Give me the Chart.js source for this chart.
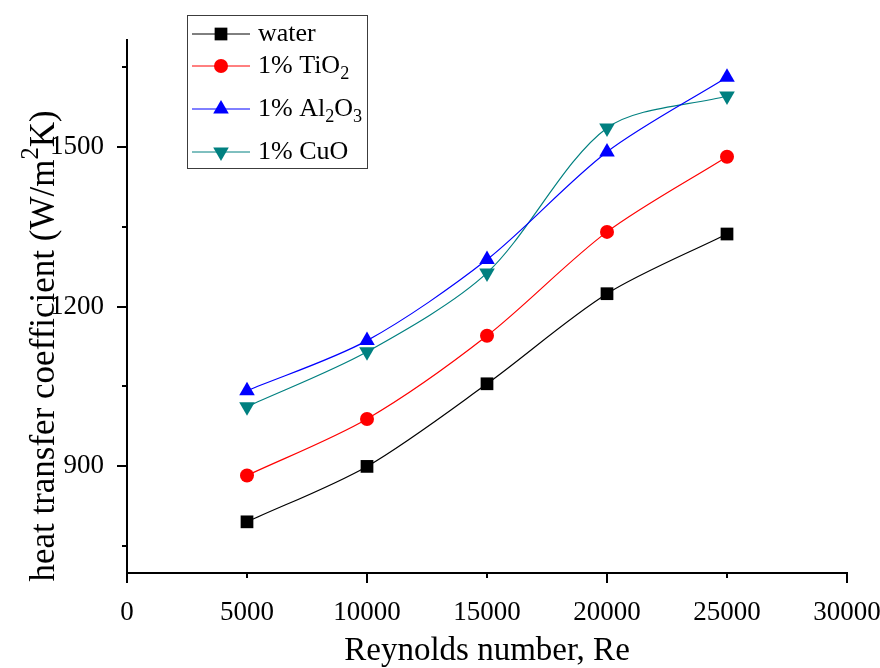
<!DOCTYPE html>
<html>
<head>
<meta charset="utf-8">
<script src="https://cdn.jsdelivr.net/npm/chart.js@4"></script>
<style>
  html, body { margin: 0; background: #fff; }
  #wrap { width: 880px; height: 668px; }
</style>
</head>
<body>
<div id="wrap"><canvas id="myChart" width="880" height="668"></canvas></div>
<script>
// data
const reynolds = [5000, 10000, 15000, 20000, 25000];
const waterH = [796, 900, 1055, 1224, 1336];
const tio2H = [883, 989, 1145, 1340, 1481];
const al2o3H = [1042, 1136, 1288, 1490, 1630];
const cuoH = [1012, 1115, 1263, 1535, 1595];
const seriesNames = ['water', '1% TiO\u2082', '1% Al\u2082O\u2083', '1% CuO'];

const xTickLabels = [0, 5000, 10000, 15000, 20000, 25000, 30000];
const xMajorTicks = [0, 10000, 20000, 30000];
const xMinorTicks = [5000, 15000, 25000];
const yTickLabels = [900, 1200, 1500];
const yMinorTicks = [750, 1050, 1350, 1650];

const xTitle = 'Reynolds number, Re';
const yTitle = 'heat transfer coefficient (W/m\u00b2K)';

const FONT = '"Liberation Serif", "Times New Roman", serif';
const SUB = '\u2080\u2081\u2082\u2083\u2084\u2085\u2086\u2087\u2088\u2089';
const SUP = '\u2070\u00b9\u00b2\u00b3\u2074\u2075\u2076\u2077\u2078\u2079';

// split text into normal / subscript / superscript runs
const richRuns = (text) => {
    const runs = [];
    for (const ch of text) {
        let mode = 0, c = ch, k = SUB.indexOf(ch);
        if (k >= 0) { mode = 1; c = String(k); }
        else if ((k = SUP.indexOf(ch)) >= 0) { mode = -1; c = String(k); }
        const last = runs[runs.length - 1];
        if (last && last.mode === mode) last.text += c;
        else runs.push({ text: c, mode: mode });
    }
    return runs;
};

const drawRich = (ctx, text, x, y, size, align) => {
    const runs = richRuns(text);
    const small = size * 0.7;
    let w = 0;
    runs.forEach(r => {
        ctx.font = (r.mode ? small : size) + 'px ' + FONT;
        r.w = ctx.measureText(r.text).width;
        w += r.w;
    });
    let cx = align === 'center' ? x - w / 2 : x;
    ctx.textAlign = 'left';
    ctx.textBaseline = 'middle';
    runs.forEach(r => {
        ctx.font = (r.mode ? small : size) + 'px ' + FONT;
        const dy = r.mode === 1 ? size * 0.3 : (r.mode === -1 ? -size * 0.38 : 0);
        ctx.fillText(r.text, cx, y + dy);
        cx += r.w;
    });
};

const drawMarker = (ctx, style, rot, x, y, r, color) => {
    ctx.fillStyle = color;
    ctx.beginPath();
    if (style === 'rect') {
        const s = r * Math.SQRT1_2;
        ctx.rect(x - s, y - s, 2 * s, 2 * s);
    } else if (style === 'triangle') {
        let a = rot * Math.PI / 180;
        for (let i = 0; i < 3; i++) {
            const px = x + Math.sin(a) * r, py = y - Math.cos(a) * r;
            if (i === 0) ctx.moveTo(px, py); else ctx.lineTo(px, py);
            a += 2 * Math.PI / 3;
        }
        ctx.closePath();
    } else {
        ctx.arc(x, y, r, 0, Math.PI * 2);
    }
    ctx.fill();
};

// tick marks: long majors, short minors, pointing outwards
const axisTicks = {
    id: 'axisTicks',
    afterDraw(chart) {
        const { ctx, scales: { x, y } } = chart;
        ctx.save();
        ctx.strokeStyle = '#000';
        ctx.lineWidth = 2;
        ctx.beginPath();
        const xt = (v, len) => {
            const px = Math.round(x.getPixelForValue(v));
            ctx.moveTo(px, x.top); ctx.lineTo(px, x.top + len);
        };
        const yt = (v, len) => {
            const py = Math.round(y.getPixelForValue(v));
            ctx.moveTo(y.right, py); ctx.lineTo(y.right - len, py);
        };
        xMajorTicks.forEach(v => xt(v, 10));
        xMinorTicks.forEach(v => xt(v, 5));
        yTickLabels.forEach(v => yt(v, 10));
        yMinorTicks.forEach(v => yt(v, 5));
        ctx.stroke();
        ctx.restore();
    }
};

// y title with superscript, legend box with subscripts
const textExtras = {
    id: 'textExtras',
    afterDraw(chart) {
        const ctx = chart.ctx;
        ctx.save();
        ctx.translate(45, 346);
        ctx.rotate(-Math.PI / 2);
        ctx.fillStyle = '#000';
        drawRich(ctx, yTitle, 0, 0, 35, 'center');
        ctx.restore();

        ctx.save();
        ctx.strokeStyle = '#3c3c3c';
        ctx.lineWidth = 1;
        ctx.strokeRect(187.5, 15.5, 180, 153);
        const rowY = [34, 66, 109, 152];
        chart.data.datasets.forEach((ds, i) => {
            const yy = rowY[i];
            ctx.strokeStyle = ds.borderColor;
            ctx.lineWidth = 1;
            ctx.beginPath();
            ctx.moveTo(192, yy); ctx.lineTo(250, yy);
            ctx.stroke();
            drawMarker(ctx, ds.pointStyle, ds.pointRotation || 0, 221, yy, ds.pointRadius, ds.backgroundColor);
            ctx.fillStyle = '#000';
            drawRich(ctx, ds.label, 258, yy, 26, 'left');
        });
        ctx.restore();
    }
};

const makeSeries = (name, values, color, style, radius, rotation) => ({
    label: name,
    data: reynolds.map((re, i) => ({ x: re, y: values[i] })),
    borderColor: color,
    backgroundColor: color,
    borderWidth: 1.2,
    pointStyle: style,
    pointRadius: radius,
    pointHoverRadius: radius,
    pointRotation: rotation,
    pointBorderWidth: 0,
    tension: 0.3,
    fill: false
});

const tickFont = { family: FONT, size: 27 };

new Chart(document.getElementById('myChart').getContext('2d'), {
    type: 'line',
    data: {
        datasets: [
            makeSeries(seriesNames[0], waterH, '#000000', 'rect', 9, 0),
            makeSeries(seriesNames[1], tio2H, '#ff0000', 'circle', 7, 0),
            makeSeries(seriesNames[2], al2o3H, '#0000ff', 'triangle', 9, 0),
            makeSeries(seriesNames[3], cuoH, '#008080', 'triangle', 9, 180)
        ]
    },
    options: {
        responsive: false,
        animation: false,
        layout: { padding: { top: 40, right: 33, bottom: 0, left: 0 } },
        plugins: { legend: { display: false }, tooltip: { enabled: false } },
        scales: {
            x: {
                type: 'linear',
                min: 0,
                max: 30000,
                afterBuildTicks: s => { s.ticks = xTickLabels.map(v => ({ value: v })); },
                afterFit: s => { s.height = 95; s.paddingLeft = 0; s.paddingRight = 0; },
                grid: { display: false },
                border: { display: true, color: '#000', width: 2 },
                ticks: { font: tickFont, color: '#000', padding: 16, maxRotation: 0, autoSkip: false, callback: v => String(v) },
                title: { display: true, text: xTitle, color: '#000', font: { family: FONT, size: 33, lineHeight: 1 }, padding: { top: 0, bottom: 0 } }
            },
            y: {
                type: 'linear',
                min: 700,
                max: 1700,
                afterBuildTicks: s => { s.ticks = yTickLabels.map(v => ({ value: v })); },
                afterFit: s => { s.width = 127; s.paddingTop = 0; s.paddingBottom = 0; },
                grid: { display: false },
                border: { display: true, color: '#000', width: 2 },
                ticks: { font: tickFont, color: '#000', padding: 15, autoSkip: false, callback: v => String(v) }
            }
        }
    },
    plugins: [axisTicks, textExtras]
});
</script>
</body>
</html>
